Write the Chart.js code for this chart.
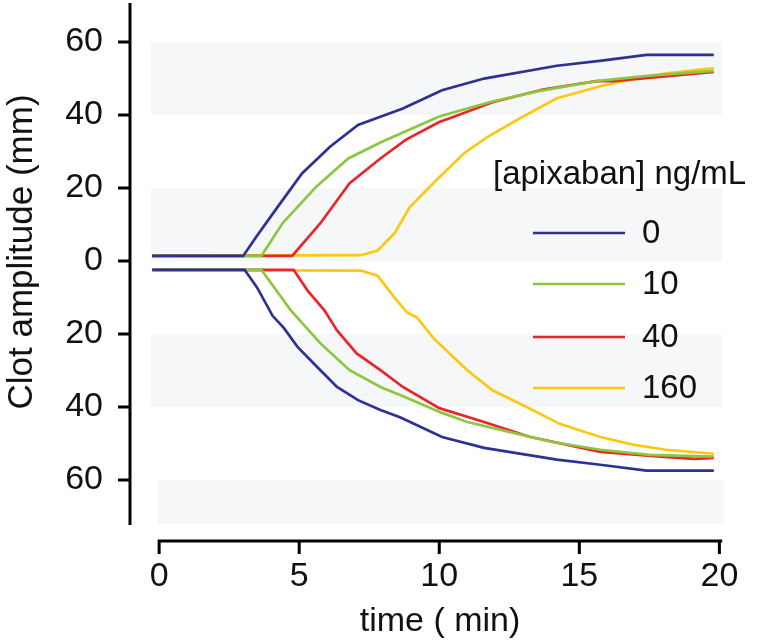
<!DOCTYPE html>
<html>
<head>
<meta charset="utf-8">
<script src="https://cdn.jsdelivr.net/npm/chart.js@4.4.1/dist/chart.umd.min.js"></script>
<style>
  html, body { margin: 0; padding: 0; background: #fff; }
</style>
</head>
<body>
<canvas id="grafico" width="763" height="643"></canvas>
<script>
// concentrações de apixabana (ng/mL) e cores
const concentracoes = ['0', '10', '40', '160'];
const cores = ['#2e3192', '#8dc63f', '#e8262c', '#fcc810'];

// ticks dos eixos
const ticksX = [0, 5, 10, 15, 20];
const ticksY = [-60, -40, -20, 0, 20, 40, 60];

// faixas cinza do fundo [xIni, xFim, yIni, yFim]
const faixas = [
  [-0.3, 20.1, 40, 60],
  [-0.3, 20.1, 0, 20],
  [-0.3, 20.1, -20, -40],
  [-0.05, 20.15, -60, -72]
];

// curva superior (amplitude positiva)
const tempoSup0 = [-0.25, 3.0, 3.5, 4.2, 5.1, 6.1, 7.1, 8.7, 10.1, 11.6, 14.2, 15.8, 17.4, 19.8];
const valorSup0 = [1.4, 1.4, 7, 14.5, 24, 31.3, 37.3, 41.8, 46.8, 50, 53.5, 54.9, 56.5, 56.5];
const tempoSup10 = [-0.25, 3.65, 4.4, 5.6, 6.75, 7.9, 8.6, 10.0, 11.0, 11.9, 13.5, 15.6, 17.5, 19.8];
const valorSup10 = [1.4, 1.4, 10.3, 20.3, 28.1, 32.5, 34.9, 39.6, 41.8, 43.7, 46.5, 49.3, 50.8, 52.1];
const tempoSup40 = [-0.25, 4.75, 5.75, 6.8, 7.9, 8.8, 10.0, 10.4, 11.9, 13.7, 15.6, 16.2, 19.8];
const valorSup40 = [1.4, 1.4, 10.3, 21.3, 28.1, 33.2, 38.1, 39.2, 43.5, 47, 49.3, 49.3, 51.8];
const tempoSup160 = [-0.25, 7.2, 7.8, 8.4, 8.95, 9.9, 10.9, 11.7, 12.9, 14.2, 15.75, 16.9, 18.1, 19.8];
const valorSup160 = [1.4, 1.6, 2.9, 7.6, 14.8, 22.2, 29.6, 33.9, 39.2, 44.6, 47.9, 49.8, 51.4, 52.9];

// curva inferior (espelhada, negativa)
const tempoInf0 = [-0.25, 3.05, 3.5, 4.05, 4.45, 4.95, 5.65, 6.35, 7.1, 7.9, 8.6, 10.1, 11.6, 14.2, 15.75, 17.4, 19.8];
const valorInf0 = [-2.4, -2.4, -7.3, -15, -18.3, -23.6, -29.1, -34.5, -38.1, -40.8, -42.8, -48.2, -51.2, -54.4, -55.8, -57.4, -57.4];
const tempoInf10 = [-0.25, 3.65, 4.7, 5.75, 6.8, 7.9, 8.6, 10.1, 11.0, 12.5, 14.0, 15.75, 17.5, 19.8];
const valorInf10 = [-2.4, -2.4, -13.5, -22.5, -29.9, -34.5, -36.7, -41.6, -44.1, -46.8, -49.5, -51.7, -53.1, -53.6];
const tempoInf40 = [-0.25, 4.8, 5.3, 5.9, 6.35, 7.05, 7.9, 8.7, 10.0, 11.6, 13.25, 15.75, 17.9, 19.1, 19.8];
const valorInf40 = [-2.4, -2.4, -8.1, -13.5, -19, -25.3, -29.9, -34.5, -40.3, -44.1, -48.2, -52.3, -53.6, -54.2, -53.9];
const tempoInf160 = [-0.25, 7.2, 7.8, 8.4, 8.85, 9.2, 9.8, 11.0, 11.9, 13.1, 14.3, 15.75, 16.9, 18.1, 19.8];
const valorInf160 = [-2.4, -2.6, -4.0, -10, -14.1, -15.4, -21.2, -29.9, -35.4, -39.9, -44.6, -48.2, -50.3, -51.7, -52.8];

const tempos = [[tempoSup0, tempoInf0], [tempoSup10, tempoInf10], [tempoSup40, tempoInf40], [tempoSup160, tempoInf160]];
const valores = [[valorSup0, valorInf0], [valorSup10, valorInf10], [valorSup40, valorInf40], [valorSup160, valorInf160]];

const fonte = '"Liberation Sans", Arial, Helvetica, sans-serif';
const corFaixa = '#f6f7f9';

function pontos(ts, vs) {
  return ts.map((t, i) => ({ x: t, y: vs[i] }));
}

const datasets = [];
concentracoes.forEach((c, i) => {
  ['sup', 'inf'].forEach((lado, j) => {
    datasets.push({
      label: c + ' ' + lado,
      data: pontos(tempos[i][j], valores[i][j]),
      borderColor: cores[i],
      borderWidth: 2.7,
      pointRadius: 0,
      tension: 0,
      fill: false
    });
  });
});

const eixosPlugin = {
  id: 'eixos',
  beforeDatasetsDraw(chart) {
    const { ctx, scales: { x, y } } = chart;
    ctx.save();
    ctx.fillStyle = corFaixa;
    faixas.forEach(([x0, x1, y0, y1]) => {
      const px0 = x.getPixelForValue(x0), px1 = x.getPixelForValue(x1);
      const py0 = y.getPixelForValue(y0), py1 = y.getPixelForValue(y1);
      ctx.fillRect(px0, Math.min(py0, py1), px1 - px0, Math.abs(py1 - py0));
    });
    ctx.restore();
  },
  afterDraw(chart) {
    const { ctx, chartArea, scales: { x, y } } = chart;
    ctx.save();
    ctx.strokeStyle = '#000';
    ctx.lineWidth = 3;
    ctx.lineCap = 'butt';

    // eixo y
    ctx.beginPath();
    ctx.moveTo(chartArea.left, chartArea.top);
    ctx.lineTo(chartArea.left, y.getPixelForValue(-72.3));
    ticksY.forEach(v => {
      const py = y.getPixelForValue(v);
      ctx.moveTo(chartArea.left - 12, py);
      ctx.lineTo(chartArea.left, py);
    });
    ctx.stroke();

    // eixo x
    ctx.beginPath();
    ctx.moveTo(x.getPixelForValue(0) - 1.5, chartArea.bottom);
    ctx.lineTo(x.getPixelForValue(20.1), chartArea.bottom);
    ticksX.forEach(v => {
      const px = x.getPixelForValue(v);
      ctx.moveTo(px, chartArea.bottom);
      ctx.lineTo(px, chartArea.bottom + 13);
    });
    ctx.stroke();

    // títulos dos eixos
    ctx.fillStyle = '#111';
    ctx.font = '34px ' + fonte;
    ctx.textAlign = 'center';
    ctx.textBaseline = 'alphabetic';
    ctx.fillText('time ( min)', 440, 631);

    ctx.save();
    ctx.translate(22, 252);
    ctx.rotate(-Math.PI / 2);
    ctx.textBaseline = 'middle';
    ctx.font = '35px ' + fonte;
    ctx.fillText('Clot amplitude (mm)', 0, 0);
    ctx.restore();

    // legenda
    ctx.textAlign = 'left';
    ctx.textBaseline = 'alphabetic';
    ctx.font = '33px ' + fonte;
    ctx.fillText('[apixaban] ng/mL', 493, 184);
    const linhas = [233, 284, 337, 388];
    ctx.lineWidth = 2.5;
    ctx.textBaseline = 'middle';
    concentracoes.forEach((c, i) => {
      ctx.strokeStyle = cores[i];
      ctx.beginPath();
      ctx.moveTo(533, linhas[i]);
      ctx.lineTo(625, linhas[i]);
      ctx.stroke();
      ctx.fillText(c, 642, linhas[i] + 1);
    });
    ctx.restore();
  }
};

new Chart(document.getElementById('grafico'), {
  type: 'line',
  data: { datasets },
  options: {
    responsive: false,
    animation: false,
    layout: { padding: { top: 3, right: 38, left: 0, bottom: 0 } },
    plugins: {
      legend: { display: false },
      tooltip: { enabled: false }
    },
    scales: {
      x: {
        type: 'linear',
        min: -1.04,
        max: 20.2,
        afterBuildTicks: s => { s.ticks = ticksX.map(v => ({ value: v })); },
        afterFit: s => { s.height = 102; s.paddingLeft = 0; s.paddingRight = 0; },
        grid: { display: false, drawTicks: false },
        border: { display: false },
        ticks: {
          color: '#111',
          padding: 15,
          maxRotation: 0,
          font: { family: fonte, size: 34 }
        }
      },
      y: {
        type: 'linear',
        min: -76.7,
        max: 70.7,
        afterBuildTicks: s => { s.ticks = ticksY.map(v => ({ value: v })); },
        afterFit: s => { s.width = 130; s.paddingTop = 0; s.paddingBottom = 0; },
        grid: { display: false, drawTicks: false },
        border: { display: false },
        ticks: {
          color: '#111',
          padding: 27,
          font: { family: fonte, size: 34 },
          callback: v => Math.abs(v)
        }
      }
    }
  },
  plugins: [eixosPlugin]
});
</script>
</body>
</html>
